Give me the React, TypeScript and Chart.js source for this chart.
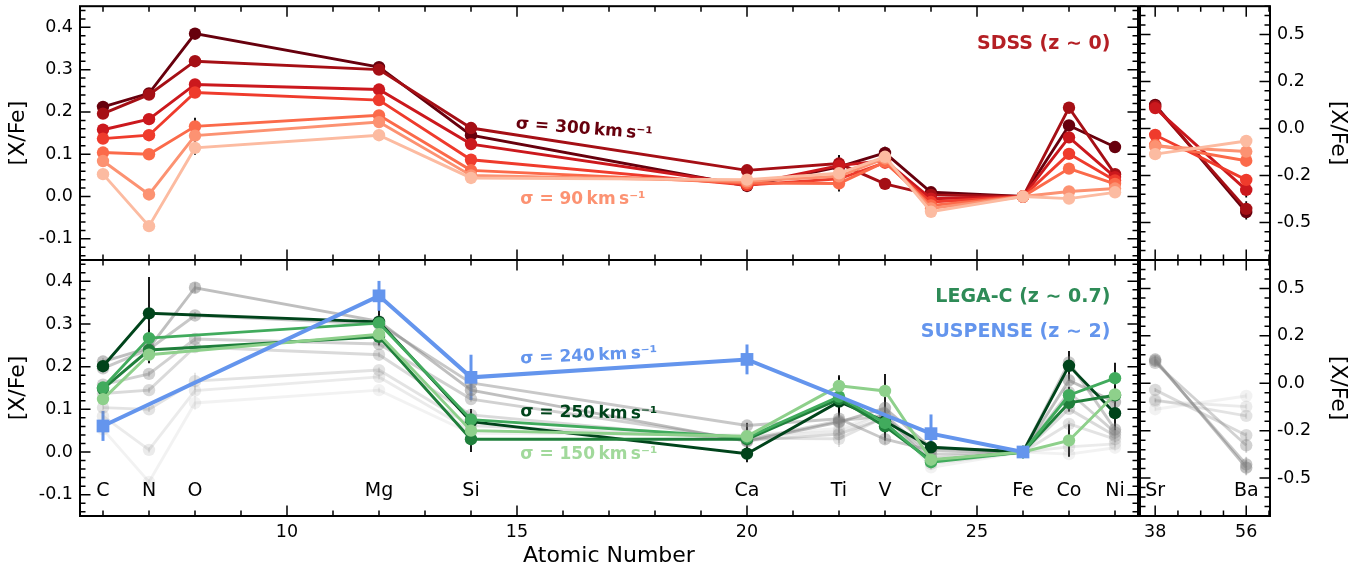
import React, { useEffect, useRef } from "react";
import { Chart, registerables } from "chart.js";
Chart.register(...registerables);

const FONT = '"DejaVu Sans", "Liberation Sans", sans-serif';

// ---------- categories ----------
const ELEMENTS = ["C", "N", "O", "Mg", "Si", "Ca", "Ti", "V", "Cr", "Fe", "Co", "Ni"];
const ATOMIC_Z = [6, 7, 8, 12, 14, 20, 22, 23, 24, 26, 27, 28];
const HEAVY_ELEMENTS = ["Sr", "Ba"];
const HEAVY_Z = [38, 56];

// ---------- tick labels ----------
const MAIN_X_TICKS = [10, 15, 20, 25];
const MAIN_Y_TICKS = [-0.1, 0, 0.1, 0.2, 0.3, 0.4];
const MAIN_Y_LABELS = ["-0.1", "0.0", "0.1", "0.2", "0.3", "0.4"];
const SIDE_X_TICKS = [38, 56];
const SIDE_Y_TICKS = [-0.5, -0.25, 0, 0.25, 0.5];
const SIDE_Y_LABELS = ["-0.5", "-0.2", "0.0", "0.2", "0.5"];
const SIDE_X_MINOR = [42.5, 47, 51.5, 60.5];

// ---------- SDSS (z~0), sigma 300 -> 90 km/s ----------
const SDSS_COLORS = ["#67000d", "#a50f15", "#cb181d", "#ef3b2c", "#fb6a4a", "#fc9272", "#fcbba1"];
const GHOST_ALPHA = [0.5, 0.43, 0.36, 0.29, 0.22, 0.16, 0.1];

const SDSS_S1 = [0.212, 0.244, 0.385, 0.306, 0.145, 0.025, 0.070, 0.103, 0.010, 0.0, 0.168, 0.117];
const SDSS_S2 = [0.196, 0.241, 0.320, 0.300, 0.162, 0.062, 0.078, 0.030, 0.004, 0.0, 0.210, 0.053];
const SDSS_S3 = [0.158, 0.183, 0.265, 0.253, 0.124, 0.028, 0.073, 0.085, -0.005, 0.0, 0.140, 0.046];
const SDSS_S4 = [0.137, 0.145, 0.246, 0.228, 0.087, 0.027, 0.042, 0.080, -0.013, 0.0, 0.101, 0.038];
const SDSS_S5 = [0.104, 0.100, 0.166, 0.192, 0.062, 0.032, 0.031, 0.082, -0.021, 0.0, 0.066, 0.030];
const SDSS_S6 = [0.084, 0.005, 0.144, 0.176, 0.050, 0.036, 0.048, 0.090, -0.028, 0.0, 0.012, 0.019];
const SDSS_S7 = [0.053, -0.070, 0.115, 0.145, 0.044, 0.040, 0.055, 0.094, -0.036, 0.0, -0.005, 0.010];

const SDSS_S1_ERR = [0.008, 0.010, 0.012, 0.008, 0.010, 0.008, 0.025, 0.015, 0.010, 0, 0.012, 0.012];
const SDSS_S2_ERR = [0.008, 0.008, 0.008, 0.008, 0.008, 0.008, 0.020, 0.012, 0.008, 0, 0.010, 0.010];
const SDSS_S3_ERR = [0.006, 0.006, 0.006, 0.006, 0.006, 0.006, 0.010, 0.008, 0.006, 0, 0.008, 0.008];
const SDSS_S4_ERR = [0.006, 0.006, 0.006, 0.006, 0.006, 0.006, 0.030, 0.008, 0.006, 0, 0.008, 0.008];
const SDSS_S5_ERR = [0.006, 0.006, 0.020, 0.006, 0.006, 0.006, 0.010, 0.008, 0.006, 0, 0.008, 0.008];
const SDSS_S6_ERR = [0.006, 0.006, 0.010, 0.006, 0.006, 0.006, 0.010, 0.008, 0.006, 0, 0.008, 0.008];
const SDSS_S7_ERR = [0.006, 0.006, 0.016, 0.006, 0.006, 0.006, 0.010, 0.008, 0.006, 0, 0.008, 0.008];

const SDSS_HEAVY_S1 = [0.125, -0.445];
const SDSS_HEAVY_S2 = [0.118, -0.428];
const SDSS_HEAVY_S3 = [0.108, -0.327];
const SDSS_HEAVY_S4 = [-0.035, -0.274];
const SDSS_HEAVY_S5 = [-0.088, -0.172];
const SDSS_HEAVY_S6 = [-0.095, -0.123];
const SDSS_HEAVY_S7 = [-0.137, -0.067];
const SDSS_HEAVY_ERR = [0.02, 0.04];
const SDSS_HEAVY_ERR_SMALL = [0.01, 0.015];

// ---------- LEGA-C (z~0.7) ----------
const LEGAC_COLORS = ["#00441b", "#1f7f3b", "#41ab5d", "#8ed08b"];
const LEGAC_G1 = [0.201, 0.325, null, 0.305, 0.071, -0.004, 0.118, 0.072, 0.011, 0.0, 0.202, 0.091];
const LEGAC_G2 = [0.148, 0.239, null, 0.270, 0.030, 0.030, 0.124, 0.060, -0.020, 0.0, 0.115, 0.133];
const LEGAC_G3 = [0.151, 0.267, null, 0.302, 0.076, 0.034, 0.130, 0.068, -0.024, 0.0, 0.133, 0.173];
const LEGAC_G4 = [0.124, 0.228, null, 0.276, 0.050, 0.037, 0.155, 0.143, -0.018, 0.0, 0.027, 0.135];
const LEGAC_G1_ERR = [0.012, 0.085, null, 0.040, 0.030, 0.020, 0.030, 0.045, 0.012, 0, 0.035, 0.040];
const LEGAC_G2_ERR = [0.010, 0.020, null, 0.020, 0.030, 0.038, 0.020, 0.020, 0.010, 0, 0.020, 0.020];
const LEGAC_G3_ERR = [0.010, 0.020, null, 0.020, 0.020, 0.020, 0.050, 0.020, 0.010, 0, 0.020, 0.036];
const LEGAC_G4_ERR = [0.010, 0.020, null, 0.020, 0.020, 0.020, 0.020, 0.040, 0.010, 0, 0.038, 0.020];

// ---------- SUSPENSE (z~2) ----------
const SUSPENSE_COLOR = "#6495ed";
const SUSPENSE = [0.061, null, null, 0.366, 0.175, 0.217, null, null, 0.043, 0.0, null, null];
const SUSPENSE_ERR = [0.035, null, null, 0.035, 0.053, 0.035, null, null, 0.045, 0, null, null];

type Pt = { x: number; y: number; e: number };
function pts(zs: number[], vals: (number | null)[], errs: (number | null)[]): Pt[] {
  const out: Pt[] = [];
  zs.forEach((z, i) => {
    const v = vals[i];
    if (v === null || v === undefined) return;
    out.push({ x: z, y: v, e: errs[i] ?? 0 });
  });
  return out;
}

const SDSS_MAIN = [SDSS_S1, SDSS_S2, SDSS_S3, SDSS_S4, SDSS_S5, SDSS_S6, SDSS_S7];
const SDSS_MAIN_ERR = [SDSS_S1_ERR, SDSS_S2_ERR, SDSS_S3_ERR, SDSS_S4_ERR, SDSS_S5_ERR, SDSS_S6_ERR, SDSS_S7_ERR];
const SDSS_HEAVY = [SDSS_HEAVY_S1, SDSS_HEAVY_S2, SDSS_HEAVY_S3, SDSS_HEAVY_S4, SDSS_HEAVY_S5, SDSS_HEAVY_S6, SDSS_HEAVY_S7];
const LEGAC = [LEGAC_G1, LEGAC_G2, LEGAC_G3, LEGAC_G4];
const LEGAC_ERR = [LEGAC_G1_ERR, LEGAC_G2_ERR, LEGAC_G3_ERR, LEGAC_G4_ERR];

const POINT_R = 6.2;
const LINE_W = 2.9;

function lineDs(label: string, data: Pt[], color: string, order: number, extra: any = {}) {
  return {
    label,
    data,
    borderColor: color,
    backgroundColor: color,
    pointBackgroundColor: color,
    pointBorderColor: color,
    pointBorderWidth: 0,
    pointRadius: POINT_R,
    pointHoverRadius: POINT_R,
    borderWidth: LINE_W,
    tension: 0,
    fill: false,
    order,
    errColor: "#000",
    errWidth: 1.8,
    ...extra,
  };
}

function sdssSets(heavy: boolean) {
  return SDSS_MAIN.map((vals, i) => {
    const d = heavy
      ? pts(HEAVY_Z, SDSS_HEAVY[i], i < 3 ? SDSS_HEAVY_ERR : SDSS_HEAVY_ERR_SMALL)
      : pts(ATOMIC_Z, vals, SDSS_MAIN_ERR[i]);
    return lineDs("SDSS " + i, d, SDSS_COLORS[i], 100 - i);
  });
}

function ghostSets(heavy: boolean) {
  return SDSS_MAIN.map((vals, i) => {
    const d = heavy
      ? pts(HEAVY_Z, SDSS_HEAVY[i], i < 3 ? SDSS_HEAVY_ERR : SDSS_HEAVY_ERR_SMALL)
      : pts(ATOMIC_Z, vals, SDSS_MAIN_ERR[i]);
    const c = `rgba(128,128,128,${GHOST_ALPHA[i]})`;
    return lineDs("ghost " + i, d, c, 200 - i, { errColor: c });
  });
}

function legacSets() {
  return LEGAC.map((vals, i) =>
    lineDs("LEGA-C " + i, pts(ATOMIC_Z, vals, LEGAC_ERR[i]), LEGAC_COLORS[i], 50 - i)
  );
}

function suspenseSet() {
  return lineDs("SUSPENSE", pts(ATOMIC_Z, SUSPENSE, SUSPENSE_ERR), SUSPENSE_COLOR, 1, {
    pointStyle: "rect",
    pointRadius: 9,
    pointHoverRadius: 9,
    borderWidth: 4,
    errColor: SUSPENSE_COLOR,
    errWidth: 3,
  });
}

type Ann = { text: string; x: number; y: number; color: string; font: string; align?: CanvasTextAlign; rot?: number };

type PanelCfg = {
  xMajor: number[];
  xMinor: number[];
  yMajor: number[];
  yMinor: number[];
  anns: Ann[];
};

function makePanelPlugin(cfg: PanelCfg) {
  return {
    id: "panel",
    beforeDatasetsDraw(chart: any) {
      const { ctx, chartArea: ca } = chart;
      const xs = chart.scales.x;
      const ys = chart.scales.y;
      ctx.save();
      ctx.beginPath();
      ctx.rect(ca.left, ca.top, ca.right - ca.left, ca.bottom - ca.top);
      ctx.clip();
      const sets = chart.data.datasets.slice().sort((a: any, b: any) => (b.order ?? 0) - (a.order ?? 0));
      for (const ds of sets) {
        ctx.strokeStyle = ds.errColor;
        ctx.lineWidth = ds.errWidth;
        for (const p of ds.data as Pt[]) {
          if (!p.e) continue;
          const px = xs.getPixelForValue(p.x);
          ctx.beginPath();
          ctx.moveTo(px, ys.getPixelForValue(p.y - p.e));
          ctx.lineTo(px, ys.getPixelForValue(p.y + p.e));
          ctx.stroke();
        }
      }
      ctx.restore();
    },
    afterDraw(chart: any) {
      const { ctx, chartArea: ca } = chart;
      const xs = chart.scales.x;
      const ys = chart.scales.y;
      ctx.save();
      for (const a of cfg.anns) {
        ctx.save();
        ctx.font = a.font;
        ctx.fillStyle = a.color;
        ctx.textAlign = a.align ?? "center";
        ctx.textBaseline = "middle";
        ctx.translate(xs.getPixelForValue(a.x), ys.getPixelForValue(a.y));
        if (a.rot) ctx.rotate((a.rot * Math.PI) / 180);
        ctx.fillText(a.text, 0, 0);
        ctx.restore();
      }
      ctx.strokeStyle = "#000";
      ctx.lineWidth = 1.5;
      const MAJ = 10.5;
      const MIN = 5.5;
      const xt = (vals: number[], len: number) => {
        for (const v of vals) {
          const px = xs.getPixelForValue(v);
          if (px < ca.left - 0.5 || px > ca.right + 0.5) continue;
          ctx.beginPath();
          ctx.moveTo(px, ca.bottom);
          ctx.lineTo(px, ca.bottom - len);
          ctx.moveTo(px, ca.top);
          ctx.lineTo(px, ca.top + len);
          ctx.stroke();
        }
      };
      const yt = (vals: number[], len: number) => {
        for (const v of vals) {
          const py = ys.getPixelForValue(v);
          if (py < ca.top - 0.5 || py > ca.bottom + 0.5) continue;
          ctx.beginPath();
          ctx.moveTo(ca.left, py);
          ctx.lineTo(ca.left + len, py);
          ctx.moveTo(ca.right, py);
          ctx.lineTo(ca.right - len, py);
          ctx.stroke();
        }
      };
      xt(cfg.xMajor, MAJ);
      xt(cfg.xMinor, MIN);
      yt(cfg.yMajor, MAJ);
      yt(cfg.yMinor, MIN);
      ctx.lineWidth = 2;
      ctx.strokeRect(ca.left, ca.top, ca.right - ca.left, ca.bottom - ca.top);
      ctx.restore();
    },
  };
}

type ChartSpec = {
  datasets: any[];
  xMin: number;
  xMax: number;
  yMin: number;
  yMax: number;
  padding: { left: number; right: number; top: number; bottom: number };
  yPos: "left" | "right";
  yTicks: number[];
  yLabels: string[];
  yWidth: number;
  yTitlePad: number;
  xShow: boolean;
  xTicks: number[];
  xTitle?: string;
  panel: PanelCfg;
};

function buildConfig(s: ChartSpec): any {
  const tickFont = { family: FONT, size: 17.5 };
  return {
    type: "line",
    data: { datasets: s.datasets },
    options: {
      responsive: false,
      animation: false,
      devicePixelRatio: 1,
      events: [],
      layout: { padding: s.padding },
      plugins: { legend: { display: false }, tooltip: { enabled: false } },
      scales: {
        x: {
          type: "linear",
          position: "bottom",
          min: s.xMin,
          max: s.xMax,
          display: s.xShow,
          grid: { display: false, drawTicks: false },
          border: { display: false },
          ticks: {
            font: tickFont,
            color: "#000",
            padding: 6,
            autoSkip: false,
            maxRotation: 0,
            callback: (v: any) => String(v),
          },
          title: {
            display: !!s.xTitle,
            text: s.xTitle ?? "",
            font: { family: FONT, size: 22 },
            color: "#000",
            padding: { top: 0, bottom: 3 },
          },
          afterBuildTicks: (sc: any) => {
            sc.ticks = s.xTicks.map((v) => ({ value: v }));
          },
          afterFit: (sc: any) => {
            if (s.xShow) sc.height = 56;
            sc.paddingLeft = 0;
            sc.paddingRight = 0;
            sc.paddingTop = 0;
            sc.paddingBottom = 0;
          },
        },
        y: {
          type: "linear",
          position: s.yPos,
          min: s.yMin,
          max: s.yMax,
          grid: { display: false, drawTicks: false },
          border: { display: false },
          ticks: {
            font: tickFont,
            color: "#000",
            padding: 7,
            autoSkip: false,
            callback: (_v: any, i: number) => s.yLabels[i],
          },
          title: {
            display: true,
            text: "[X/Fe]",
            font: { family: FONT, size: 22 },
            color: "#000",
            padding: { top: s.yTitlePad, bottom: 0 },
          },
          afterBuildTicks: (sc: any) => {
            sc.ticks = s.yTicks.map((v) => ({ value: v }));
          },
          afterFit: (sc: any) => {
            sc.width = s.yWidth;
            sc.paddingTop = 0;
            sc.paddingBottom = 0;
            sc.paddingLeft = 0;
            sc.paddingRight = 0;
          },
        },
      },
    },
    plugins: [makePanelPlugin(s.panel)],
  };
}

// ---------- geometry ----------
const W = 1369;
const H = 572;
const MAIN_RIGHT_PAD = W - 1138;
const SIDE_LEFT = 1140;
const TOP_Y = 4;
const MID_Y = 260;
const MAIN_X = [5.5, 28.5];
const MAIN_Y = [-0.15, 0.45];
const SIDE_X = [35, 60.7];
const SIDE_Y = [-0.7, 0.65];

function mainMinorX() {
  const out: number[] = [];
  for (let v = 6; v <= 28; v++) if (v % 5 !== 0) out.push(v);
  return out;
}
function minorY(lo: number, hi: number, step: number, majorEvery: number) {
  const out: number[] = [];
  const n0 = Math.ceil(lo / step);
  const n1 = Math.floor(hi / step);
  for (let k = n0; k <= n1; k++) if (k % majorEvery !== 0) out.push(+(k * step).toFixed(4));
  return out;
}

const BOLD = `bold 19px ${FONT}`;
const SIGMA_FONT = `bold 17px ${FONT}`;
const ELEM_FONT = `19px ${FONT}`;
const ELEMENT_LABEL_Y = -0.092;
const HEAVY_LABEL_Y = -0.568;
const TS = "\u2009";
const sigmaText = (v: number) => `σ = ${v}${TS}km${TS}s⁻¹`;

function specs(): ChartSpec[] {
  const mainPanelBase = {
    xMajor: MAIN_X_TICKS,
    xMinor: mainMinorX(),
    yMajor: MAIN_Y_TICKS,
    yMinor: minorY(-0.15, 0.45, 0.02, 5),
  };
  const sidePanelBase = {
    xMajor: SIDE_X_TICKS,
    xMinor: SIDE_X_MINOR,
    yMajor: SIDE_Y_TICKS,
    yMinor: minorY(-0.7, 0.65, 0.05, 5),
  };
  const elementAnns: Ann[] = ELEMENTS.map((el, i) => ({
    text: el,
    x: ATOMIC_Z[i],
    y: ELEMENT_LABEL_Y,
    color: "#000",
    font: ELEM_FONT,
  }));
  const heavyAnns: Ann[] = HEAVY_ELEMENTS.map((el, i) => ({
    text: el,
    x: HEAVY_Z[i],
    y: HEAVY_LABEL_Y,
    color: "#000",
    font: ELEM_FONT,
  }));
  return [
    {
      datasets: sdssSets(false),
      xMin: MAIN_X[0], xMax: MAIN_X[1], yMin: MAIN_Y[0], yMax: MAIN_Y[1],
      padding: { left: 0, right: MAIN_RIGHT_PAD, top: TOP_Y, bottom: H - MID_Y },
      yPos: "left", yTicks: MAIN_Y_TICKS, yLabels: MAIN_Y_LABELS, yWidth: 80, yTitlePad: 5,
      xShow: false, xTicks: MAIN_X_TICKS,
      panel: {
        ...mainPanelBase,
        anns: [
          { text: "SDSS (z ∼ 0)", x: 27.9, y: 0.361, color: "#b41f24", font: BOLD, align: "right" },
          { text: sigmaText(300), x: 16.46, y: 0.159, color: "#67000d", font: SIGMA_FONT, rot: 4.5 },
          { text: sigmaText(90), x: 15.07, y: -0.007, color: "#fc9272", font: SIGMA_FONT, align: "left" },
        ],
      },
    },
    {
      datasets: sdssSets(true),
      xMin: SIDE_X[0], xMax: SIDE_X[1], yMin: SIDE_Y[0], yMax: SIDE_Y[1],
      padding: { left: SIDE_LEFT, right: 0, top: TOP_Y, bottom: H - MID_Y },
      yPos: "right", yTicks: SIDE_Y_TICKS, yLabels: SIDE_Y_LABELS, yWidth: W - 1270, yTitlePad: 18,
      xShow: false, xTicks: SIDE_X_TICKS,
      panel: { ...sidePanelBase, anns: [] },
    },
    {
      datasets: [...ghostSets(false), ...legacSets(), suspenseSet()],
      xMin: MAIN_X[0], xMax: MAIN_X[1], yMin: MAIN_Y[0], yMax: MAIN_Y[1],
      padding: { left: 0, right: MAIN_RIGHT_PAD, top: MID_Y, bottom: 0 },
      yPos: "left", yTicks: MAIN_Y_TICKS, yLabels: MAIN_Y_LABELS, yWidth: 80, yTitlePad: 5,
      xShow: true, xTicks: MAIN_X_TICKS, xTitle: "Atomic Number",
      panel: {
        ...mainPanelBase,
        anns: [
          ...elementAnns,
          { text: "LEGA-C (z ∼ 0.7)", x: 27.9, y: 0.362, color: "#2e8b57", font: BOLD, align: "right" },
          { text: "SUSPENSE (z ∼ 2)", x: 27.9, y: 0.280, color: SUSPENSE_COLOR, font: BOLD, align: "right" },
          { text: sigmaText(240), x: 15.07, y: 0.218, color: SUSPENSE_COLOR, font: SIGMA_FONT, align: "left", rot: -2.5 },
          { text: sigmaText(250), x: 15.07, y: 0.094, color: "#00441b", font: SIGMA_FONT, align: "left", rot: 1 },
          { text: sigmaText(150), x: 15.07, y: -0.007, color: "#a1d99b", font: SIGMA_FONT, align: "left" },
        ],
      },
    },
    {
      datasets: ghostSets(true),
      xMin: SIDE_X[0], xMax: SIDE_X[1], yMin: SIDE_Y[0], yMax: SIDE_Y[1],
      padding: { left: SIDE_LEFT, right: 0, top: MID_Y, bottom: 0 },
      yPos: "right", yTicks: SIDE_Y_TICKS, yLabels: SIDE_Y_LABELS, yWidth: W - 1270, yTitlePad: 18,
      xShow: true, xTicks: SIDE_X_TICKS,
      panel: { ...sidePanelBase, anns: heavyAnns },
    },
  ];
}

export default function App() {
  const refs = [useRef<HTMLCanvasElement>(null), useRef<HTMLCanvasElement>(null), useRef<HTMLCanvasElement>(null), useRef<HTMLCanvasElement>(null)];
  useEffect(() => {
    const all = specs();
    const charts: Chart[] = [];
    all.forEach((s, i) => {
      const c = refs[i].current;
      if (!c) return;
      charts.push(new Chart(c, buildConfig(s)));
    });
    return () => charts.forEach((c) => c.destroy());
  }, []);
  return (
    <div style={{ position: "absolute", left: 0, top: 0, width: W, height: H, background: "#fff" }}>
      {refs.map((r, i) => (
        <canvas
          key={i}
          ref={r}
          width={W}
          height={H}
          style={{ position: "absolute", left: 0, top: 0, width: W, height: H }}
        />
      ))}
    </div>
  );
}
